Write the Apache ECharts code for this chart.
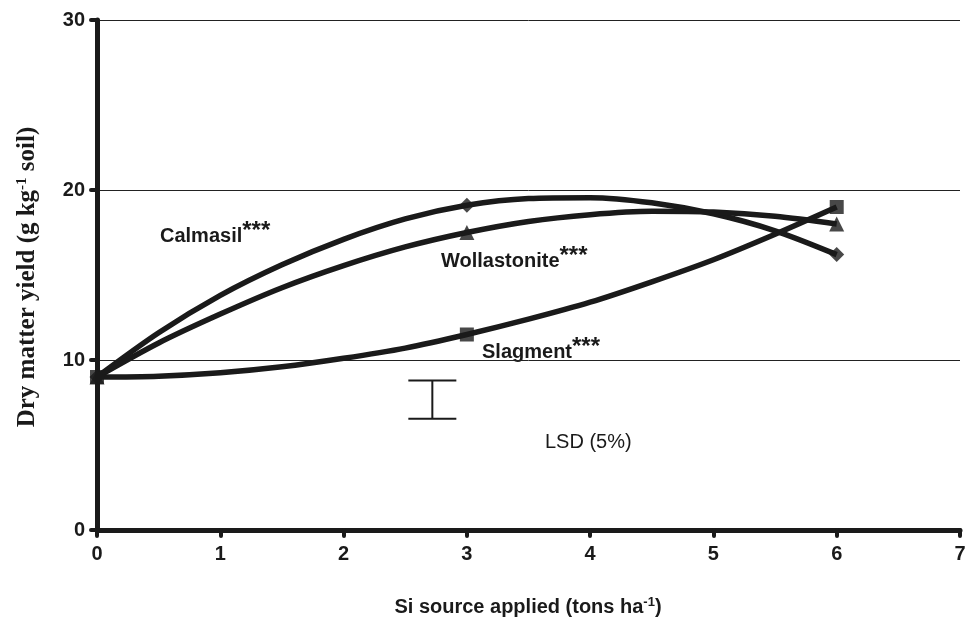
<!DOCTYPE html>
<html><head><meta charset="utf-8">
<script src="https://cdn.jsdelivr.net/npm/echarts@6/dist/echarts.min.js"></script>
<style>html,body{margin:0;padding:0;background:#fff}#c{width:969px;height:623px}</style>
</head><body><div id="c"></div>
<script>
// Measured points (tons ha-1 vs dry matter yield)
const doseX = [0, 3, 6];
const calmasilObs = [9.0, 19.1, 16.2];
const wollastoniteObs = [9.0, 17.5, 18.0];
const slagmentObs = [9.0, 11.5, 19.0];
// Fitted curves
const curveX = [0, 0.5, 1, 1.5, 2, 2.5, 3, 3.5, 4, 4.5, 5, 5.5, 6];
const calmasilCurve = [9.0, 11.6, 13.8, 15.6, 17.1, 18.3, 19.1, 19.5, 19.55, 19.25, 18.6, 17.6, 16.2];
const wollastoniteCurve = [9.0, 11.0, 12.7, 14.25, 15.55, 16.65, 17.5, 18.15, 18.55, 18.75, 18.7, 18.45, 18.0];
const slagmentCurve = [9.0, 9.05, 9.25, 9.6, 10.1, 10.7, 11.5, 12.4, 13.4, 14.6, 15.9, 17.4, 19.0];
// LSD bar
const lsdX = [2.72];
const lsdLow = [6.55];
const lsdHigh = [8.8];

const pair = (xs, ys) => xs.map((x, i) => [x, ys[i]]);
const INK = '#1a1a1a';
const SANS = 'Liberation Sans';

const chart = echarts.init(document.getElementById('c'));

function curve(name, ys) {
  return {
    name: name, type: 'line', data: pair(curveX, ys), smooth: 0.3, showSymbol: false,
    lineStyle: { color: INK, width: 5.5 }, silent: true, z: 3
  };
}
function marks(name, ys, sym, size) {
  return {
    name: name, type: 'scatter', data: pair(doseX, ys), symbol: sym, symbolSize: size,
    itemStyle: { color: INK }, z: 4
  };
}
function tagRich() {
  return {
    a: { fontFamily: SANS, fontWeight: 'bold', fontSize: 20, fill: INK },
    s: { fontFamily: SANS, fontWeight: 'bold', fontSize: 24, fill: INK, verticalAlign: 'top', padding: [0, 0, 10, 0] }
  };
}

chart.setOption({
  animation: false,
  backgroundColor: '#fff',
  grid: { left: 97, right: 9, top: 20, bottom: 93 },
  xAxis: {
    type: 'value', min: 0, max: 7, interval: 1,
    axisLine: { lineStyle: { color: INK, width: 5 } },
    axisTick: { show: true, length: 6, lineStyle: { color: INK, width: 4, cap: 'round' } },
    axisLabel: { color: INK, fontFamily: SANS, fontWeight: 'bold', fontSize: 20, margin: 14 },
    splitLine: { show: false }
  },
  yAxis: {
    type: 'value', min: 0, max: 30, interval: 10,
    axisLine: { show: true, lineStyle: { color: INK, width: 5 } },
    axisTick: { show: true, length: 6, lineStyle: { color: INK, width: 4, cap: 'round' } },
    axisLabel: { color: INK, fontFamily: SANS, fontWeight: 'bold', fontSize: 20, margin: 12 },
    splitLine: { show: true, lineStyle: { color: '#222', width: 1 } }
  },
  series: [
    curve('Calmasil', calmasilCurve),
    curve('Wollastonite', wollastoniteCurve),
    curve('Slagment', slagmentCurve),
    marks('Calmasil', calmasilObs, 'diamond', 15),
    marks('Wollastonite', wollastoniteObs, 'triangle', 15),
    marks('Slagment', slagmentObs, 'rect', 14),
    {
      type: 'custom', name: 'LSD', z: 5,
      data: lsdX.map((x, i) => [x, lsdLow[i], lsdHigh[i]]),
      renderItem: function (params, api) {
        const lo = api.coord([api.value(0), api.value(1)]);
        const hi = api.coord([api.value(0), api.value(2)]);
        const hw = 24;
        const st = { stroke: INK, lineWidth: 2 };
        return { type: 'group', children: [
          { type: 'line', shape: { x1: lo[0], y1: lo[1], x2: hi[0], y2: hi[1] }, style: st },
          { type: 'line', shape: { x1: lo[0] - hw, y1: lo[1], x2: lo[0] + hw, y2: lo[1] }, style: st },
          { type: 'line', shape: { x1: hi[0] - hw, y1: hi[1], x2: hi[0] + hw, y2: hi[1] }, style: st }
        ]};
      }
    }
  ],
  graphic: [
    { type: 'text', x: 160, y: 236, style: { verticalAlign: 'middle', rich: tagRich(), text: '{a|Calmasil}{s|***}' } },
    { type: 'text', x: 441, y: 261, style: { verticalAlign: 'middle', rich: tagRich(), text: '{a|Wollastonite}{s|***}' } },
    { type: 'text', x: 482, y: 352, style: { verticalAlign: 'middle', rich: tagRich(), text: '{a|Slagment}{s|***}' } },
    { type: 'text', x: 545, y: 442, style: { verticalAlign: 'middle', text: 'LSD (5%)', fontFamily: SANS, fontSize: 20, fill: INK } },
    { type: 'text', x: 528, y: 607, style: { align: 'center', verticalAlign: 'middle', rich: {
        a: { fontFamily: SANS, fontWeight: 'bold', fontSize: 20, fill: INK },
        s: { fontFamily: SANS, fontWeight: 'bold', fontSize: 13, fill: INK, verticalAlign: 'top', padding: [0, 0, 10, 0] } },
      text: '{a|Si source applied (tons ha}{s|-1}{a|)}' } },
    { type: 'text', x: 28, y: 277, rotation: Math.PI / 2, style: { align: 'center', verticalAlign: 'middle', rich: {
        a: { fontFamily: 'Liberation Serif', fontWeight: 'bold', fontSize: 25, fill: INK },
        s: { fontFamily: 'Liberation Serif', fontWeight: 'bold', fontSize: 15, fill: INK, verticalAlign: 'top', padding: [0, 0, 12, 0] } },
      text: '{a|Dry matter yield (g kg}{s|-1}{a| soil)}' } }
  ]
});
</script>
</body></html>
